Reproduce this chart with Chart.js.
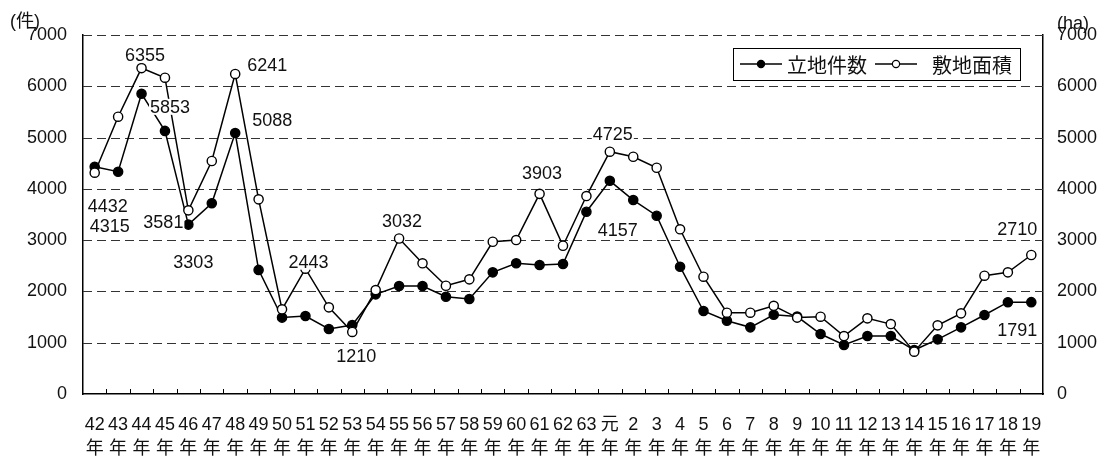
<!DOCTYPE html>
<html><head><meta charset="utf-8">
<script src="https://cdn.jsdelivr.net/npm/chart.js@4.4.1/dist/chart.umd.min.js"></script>
<style>html,body{margin:0;padding:0;background:#fff;}#wrap{width:1102px;height:459px;}</style>
</head><body><div id="wrap"><canvas id="c" width="1102" height="459"></canvas></div>
<script>
const categories = ['42','43','44','45','46','47','48','49','50','51','52','53','54','55','56','57','58','59','60','61','62','63','元','2','3','4','5','6','7','8','9','10','11','12','13','14','15','16','17','18','19'];
const yearSuffix = '年';
const countValues = [4432,4335,5853,5130,3303,3720,5088,2420,1490,1520,1267,1345,1943,2105,2105,1897,1852,2372,2548,2515,2534,3554,4157,3782,3476,2482,1618,1429,1300,1545,1510,1169,955,1130,1130,857,1066,1300,1540,1790,1791];
const areaValues = [4315,5407,6355,6167,3581,4543,6241,3795,1651,2443,1690,1210,2027,3032,2548,2111,2236,2969,3002,3903,2891,3860,4725,4626,4412,3211,2287,1585,1585,1720,1490,1507,1130,1475,1364,825,1339,1573,2307,2372,2710];
const seriesNames = ['立地件数','敷地面積'];
const leftUnit = '(件)';
const rightUnit = '(ha)';
const yMin = 0, yMax = 7000, yStep = 1000;
// value labels: which series/point, and offset of label from the point
const valueLabels = [
  {s:1,i:2,dx:3.5,dy:-13},{s:1,i:6,dx:32,dy:-9},{s:0,i:2,dx:28.5,dy:13},{s:0,i:6,dx:37,dy:-13},
  {s:0,i:0,dx:13,dy:39},{s:1,i:0,dx:15,dy:53},{s:1,i:4,dx:-25,dy:12},{s:0,i:4,dx:5,dy:37},
  {s:1,i:9,dx:3,dy:-7},{s:1,i:11,dx:4,dy:24},{s:1,i:13,dx:3,dy:-17.5},{s:1,i:19,dx:2.5,dy:-21},
  {s:1,i:22,dx:3,dy:-18},{s:0,i:22,dx:8,dy:49},{s:1,i:40,dx:-14,dy:-26},{s:0,i:40,dx:-14,dy:28}
];

const FONT = "'Liberation Sans', Arial, 'Noto Sans CJK JP', sans-serif";
const CJK = "'Noto Sans CJK JP', 'Liberation Sans', sans-serif";

const decor = {
  id: 'decor',
  beforeDatasetsDraw(chart) {
    // dashed horizontal grid lines from the y scale ticks
    const {ctx, chartArea: ca, scales} = chart;
    const y = scales.y;
    ctx.save();
    ctx.strokeStyle = '#333'; ctx.lineWidth = 1; ctx.setLineDash([9, 5]);
    ctx.beginPath();
    y.ticks.forEach(t => {
      if (t.value === yMin) return;
      const py = Math.round(y.getPixelForValue(t.value)) + 0.5;
      ctx.moveTo(ca.left, py); ctx.lineTo(ca.right, py);
    });
    ctx.stroke();
    ctx.restore();
  },
  afterDatasetsDraw(chart) {
    const {ctx, chartArea: ca, scales} = chart;
    const x = scales.x;
    ctx.save();
    // inner tick marks at category boundaries
    ctx.strokeStyle = '#000'; ctx.lineWidth = 1;
    ctx.beginPath();
    for (let i = 1; i < categories.length; i++) {
      const xb = Math.round((x.getPixelForValue(i - 1) + x.getPixelForValue(i)) / 2) + 0.5;
      ctx.moveTo(xb, ca.bottom); ctx.lineTo(xb, ca.bottom - 5);
    }
    ctx.stroke();
    // value labels
    ctx.font = '18px ' + FONT; ctx.textAlign = 'center'; ctx.textBaseline = 'middle';
    for (const a of valueLabels) {
      const el = chart.getDatasetMeta(a.s).data[a.i];
      const txt = String(chart.data.datasets[a.s].data[a.i]);
      const cx = el.x + a.dx, cy = el.y + a.dy;
      const w = ctx.measureText(txt).width;
      ctx.fillStyle = '#fff'; ctx.fillRect(cx - w / 2 - 1, cy - 8, w + 2, 16);
      ctx.fillStyle = '#111'; ctx.fillText(txt, cx, cy + 1);
    }
    // legend
    const lx = ca.right - 310, ly = ca.top + 13, lw = 287, lh = 32, my = ly + lh / 2;
    ctx.fillStyle = '#fff'; ctx.fillRect(lx, ly, lw, lh);
    ctx.strokeStyle = '#000'; ctx.lineWidth = 1; ctx.strokeRect(lx + 0.5, ly + 0.5, lw, lh);
    const items = [{x0: 7, x1: 49, m: 28, t: 54, fill: '#000'}, {x0: 142, x1: 184, m: 163, t: 199, fill: '#fff'}];
    items.forEach((it, k) => {
      ctx.strokeStyle = '#000'; ctx.lineWidth = 1.5;
      ctx.beginPath(); ctx.moveTo(lx + it.x0, my); ctx.lineTo(lx + it.x1, my); ctx.stroke();
      ctx.beginPath(); ctx.arc(lx + it.m, my, 3.6, 0, Math.PI * 2);
      ctx.fillStyle = it.fill; ctx.fill(); ctx.lineWidth = 1.2; ctx.stroke();
      ctx.fillStyle = '#111'; ctx.font = '20px ' + CJK; ctx.textAlign = 'left'; ctx.textBaseline = 'middle';
      ctx.fillText(seriesNames[k], lx + it.t, my + 1);
    });
    // unit labels
    ctx.font = '18px ' + FONT; ctx.fillStyle = '#111'; ctx.textAlign = 'left'; ctx.textBaseline = 'middle';
    ctx.fillText(leftUnit, ca.left - 73, ca.top - 13);
    ctx.fillText(rightUnit, ca.right + 14, ca.top - 11);
    ctx.restore();
  }
};

const plainNum = v => String(v);

new Chart(document.getElementById('c'), {
  type: 'line',
  data: {
    labels: categories.map(c => [c, yearSuffix]),
    datasets: [
      {label: seriesNames[0], data: countValues, yAxisID: 'y', order: 1,
       borderColor: '#000', borderWidth: 1.5, pointRadius: 4.6, pointBorderWidth: 1.4,
       pointBackgroundColor: '#000', pointBorderColor: '#000', tension: 0, fill: false},
      {label: seriesNames[1], data: areaValues, yAxisID: 'y2', order: 0,
       borderColor: '#000', borderWidth: 1.5, pointRadius: 4.6, pointBorderWidth: 1.4,
       pointBackgroundColor: '#fff', pointBorderColor: '#000', tension: 0, fill: false}
    ]
  },
  options: {
    responsive: false, animation: false, devicePixelRatio: 1,
    layout: {padding: {top: 35, left: 0, right: 0, bottom: 0}},
    plugins: {legend: {display: false}, tooltip: {enabled: false}},
    events: [],
    scales: {
      x: {
        offset: true,
        grid: {display: false, drawTicks: false},
        border: {display: true, color: '#000', width: 1.5},
        ticks: {autoSkip: false, maxRotation: 0, minRotation: 0, padding: 19, color: '#111',
                font: {family: FONT, size: 18, lineHeight: 1.333}},
        afterFit(s) { s.height = 65; }
      },
      y: {
        position: 'left', min: yMin, max: yMax,
        ticks: {stepSize: yStep, padding: 16, color: '#111', font: {family: FONT, size: 18}, callback: plainNum},
        grid: {display: false, drawTicks: false},
        border: {display: true, color: '#000', width: 1.5},
        afterFit(s) { s.width = 83; }
      },
      y2: {
        position: 'right', min: yMin, max: yMax,
        ticks: {stepSize: yStep, padding: 14, color: '#111', font: {family: FONT, size: 18}, callback: plainNum},
        grid: {display: false, drawTicks: false},
        border: {display: true, color: '#000', width: 1.5},
        afterFit(s) { s.width = 59; }
      }
    }
  },
  plugins: [decor]
});
</script>
</body></html>
